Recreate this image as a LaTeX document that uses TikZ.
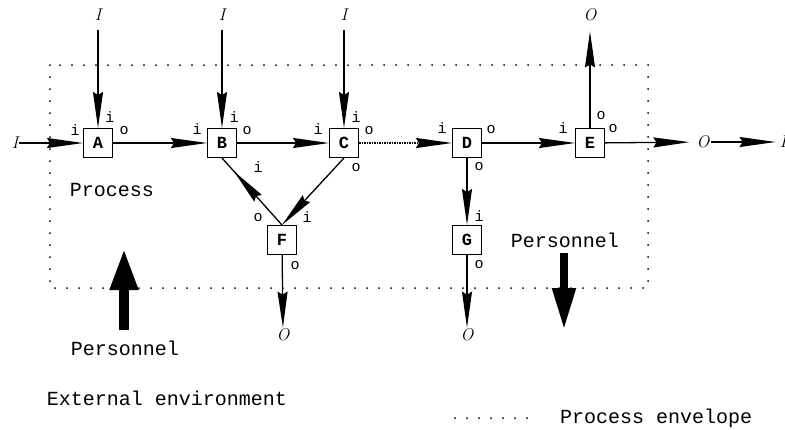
\documentclass[tikz,border=0pt]{standalone}
\usepackage{fontspec}
\newfontfamily\mono{Liberation Mono}
\usetikzlibrary{arrows.meta,decorations.markings}
\tikzset{hd/.tip={Stealth[length=36pt,width=10pt,inset=3pt]}}
\begin{document}
\begin{tikzpicture}[x=1pt,y=-1pt,
  box/.style={draw,line width=1pt,minimum size=29pt,inner sep=0pt,font=\mono\bfseries\fontsize{17}{17}\selectfont},
  io/.style={inner sep=0pt,font=\mono\fontsize{15}{15}\selectfont},
  big/.style={inner sep=0pt,font=\mono\fontsize{20}{20}\selectfont},
  var/.style={inner sep=1pt,font=\fontsize{17}{17}\selectfont\itshape},
  flow/.style={line width=1.3pt,-hd},
  dotline/.style={dash pattern=on 1.5pt off 1pt},
  midflow/.style={line width=1.3pt,postaction={decorate},decoration={markings,mark=at position #1 with {\arrow{hd}}}},
  env/.style={line width=2pt,line cap=round,dash pattern=on 0pt off 12pt},
  fat/.style={line width=#1},
]
\useasboundingbox (0,0) rectangle (785,429);
% envelope
\draw[env] (50,65) rectangle (648,288);
% boxes
\node[box] (A) at (98,143) {A};
\node[box] (B) at (222,143) {B};
\node[box] (C) at (344,143) {C};
\node[box] (D) at (467,143) {D};
\node[box] (E) at (590,143) {E};
\node[box] (F) at (282,240) {F};
\node[box] (G) at (467,240) {G};
% I / O terminals
\node[var] (IL) at (15,143) {I};
\node[var] (IA) at (98,15) {I};
\node[var] (IB) at (222,15) {I};
\node[var] (IC) at (344,15) {I};
\node[var] (OE) at (590,15) {O};
\node[var] (OR) at (703,142) {O};
\node[var] (IR) at (783,142) {I};
\node[var] (OF) at (283,335) {O};
\node[var] (OG) at (467,335) {O};
% connectors
\draw[flow] (IL) -- (A);
\draw[flow,shorten <=8pt] (IA) -- (A);
\draw[flow,shorten <=8pt] (IB) -- (B);
\draw[flow,shorten <=8pt] (IC) -- (C);
\draw[flow] (A) -- (B);
\draw[flow] (B) -- (C);
\draw[flow,dotline] (C) -- (D);
\draw[flow] (D) -- (E);
\draw[flow] (D) -- (G);
\draw[flow] (C.south) -- (F.north);
\draw[midflow=0.8] (F.north) -- (B.south);
\draw[flow] (F) -- (OF);
\draw[flow] (G) -- (OG);
\draw[flow,shorten >=9pt] (E) -- (OE);
\draw[flow,shorten >=6pt] (E) -- (OR);
\draw[flow,shorten >=3pt] (OR) -- (IR);
% i / o labels
\node[io] (a1) at (75,130) {i};
\node[io] (a2) at (110,117) {i};
\node[io] (a3) at (124,131) {o};
\node[io] (b1) at (197,129) {i};
\node[io] (b2) at (234,117) {i};
\node[io] (b3) at (247,131) {o};
\node[io] (b4) at (258,167) {i};
\node[io] (c1) at (318,129) {i};
\node[io] (c2) at (356,117) {i};
\node[io] (c3) at (369,131) {o};
\node[io] (c4) at (356,168) {o};
\node[io] (d1) at (442,128) {i};
\node[io] (d2) at (491,130) {o};
\node[io] (d3) at (479,167) {o};
\node[io] (e1) at (563,128) {i};
\node[io] (e2) at (601,116) {o};
\node[io] (e3) at (613,129) {o};
\node[io] (f1) at (258,218) {o};
\node[io] (f2) at (307,217) {i};
\node[io] (f3) at (295,266) {o};
\node[io] (g1) at (479,216) {i};
\node[io] (g2) at (479,265) {o};
% texts
\node[big] (proc) at (112,190) {Process};
\node[big] (pers1) at (125,348) {Personnel};
\node[big] (pers2) at (565,240) {Personnel};
\node[big] (ext) at (167,398) {External environment};
\node[big,anchor=west] (envlab) at (560,418) {Process envelope};
% personnel arrows
\coordinate (p1a) at (124,330);
\coordinate (p1b) at (124,248);
\coordinate (p2a) at (564,253);
\coordinate (p2b) at (564,330);
\draw[fat=10pt,-{Triangle[length=42pt,width=26pt]}] (p1a) -- (p1b);
\draw[fat=8pt,-{Triangle[length=42pt,width=22pt]}] (p2a) -- (p2b);
% legend
\coordinate (lg1) at (455,418);
\coordinate (lg2) at (527,418);
\draw[env] (lg1) -- (lg2);
\end{tikzpicture}
\end{document}
